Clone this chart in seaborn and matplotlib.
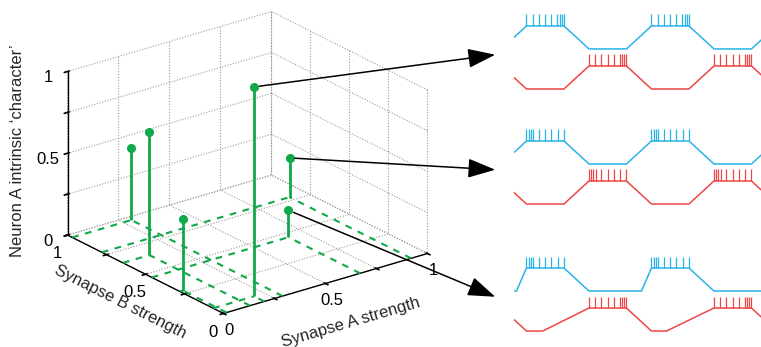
import numpy as np
import matplotlib
matplotlib.use("Agg")
import matplotlib.pyplot as plt
import seaborn as sns
from matplotlib.patches import ConnectionPatch
from mpl_toolkits.mplot3d import proj3d

# stems: synapse A strength, synapse B strength, neuron A intrinsic character
syn_a = [0.29, 0.13, 0.015, 0.20, 0.92, 0.67]
syn_b = [0.97, 0.645, 0.28, 0.066, 0.78, 0.46]
character = [0.44, 0.755, 0.435, 1.28, 0.24, 0.165]
linked_stems = [3, 4, 5]  # stems pointing to the three trace panels

axis_ticks = [0, 0.25, 0.5, 0.75, 1]
axis_ticklabels = ["0", "", "0.5", "", "1"]

# activity traces (time in arbitrary units)
t_regular = [0, 1, 4, 6, 9, 11, 14, 16, 19, 20]
blue_regular = [0.5, 1, 1, 0, 0, 1, 1, 0, 0, 0.5]
red_regular = [0.5, 0, 0, 1, 1, 0, 0, 1, 1, 0.5]
t_blue3 = [0, 0.2, 1, 4, 6, 10.2, 11, 14, 16, 20]
blue3 = [0, 0, 1, 1, 0, 0, 1, 1, 0, 0]
t_red3 = [0, 1, 2.3, 6, 9, 11, 12.2, 16, 19, 20]
red3 = [0.5, 0, 0, 1, 1, 0, 0, 1, 1, 0.5]

blue_burst_starts = [1, 11]
red_burst_starts = [6, 16]
late_burst = [0, 0.5, 1, 1.5, 2, 2.45, 2.67, 2.83, 3]
early_burst = [0, 0.17, 0.33, 0.55, 1, 1.5, 2, 2.5, 3]

GREEN = "#0fa84a"
BLUE = "#27b4e6"
RED = "#ee4646"
FS = 12

sns.set_theme(style="white")
plt.rcParams["font.family"] = ["Liberation Sans", "DejaVu Sans"]
plt.rcParams["axes3d.automargin"] = False

W, H = 761, 347
fig = plt.figure(figsize=(W / 100, H / 100), dpi=100)

# ---------- 3D stem plot ----------
ax = fig.add_axes([0.0, 0.0, 0.62, 1.0], projection="3d")
ax.set_proj_type("ortho")
ax.view_init(elev=22.6, azim=-127.4)
zoom = 1.0
ax.set_box_aspect((1, 1, 0.69), zoom=zoom)
ax.set_xlim(0, 1)
ax.set_ylim(0, 1)
ax.set_zlim(0, 1)

for axis in (ax.xaxis, ax.yaxis, ax.zaxis):
    axis.set_pane_color((1, 1, 1, 1))
    axis.pane.set_edgecolor("none")
    axis._axinfo["grid"].update(color="#9a9a9a", linestyle=(0, (1, 1.5)), linewidth=0.8)
    axis.line.set_color("black")
    axis.line.set_linewidth(1.0)

ax.set_xticks(axis_ticks)
ax.set_yticks(axis_ticks)
ax.set_zticks(axis_ticks)
ax.set_xticklabels(axis_ticklabels)
ax.set_yticklabels(axis_ticklabels)
ax.set_zticklabels(axis_ticklabels)
ax.tick_params(labelsize=FS, colors="black")
ax.tick_params(axis="x", pad=-3)
ax.tick_params(axis="y", pad=-1.5)
ax.tick_params(axis="z", pad=-1.0)
ax.set_xlabel("Synapse A strength", fontsize=FS, labelpad=0)
ax.set_ylabel("Synapse B strength", fontsize=FS, labelpad=-5)
ax.set_zlabel("Neuron A intrinsic \u2018character\u2019", fontsize=FS, labelpad=-3)

for a, b, z in zip(syn_a, syn_b, character):
    ax.plot([a, a], [0, b], [0, 0], color=GREEN, lw=1.5, dashes=(3.2, 3.2))
    ax.plot([0, a], [b, b], [0, 0], color=GREEN, lw=1.5, dashes=(3.2, 3.2))
for a, b, z in zip(syn_a, syn_b, character):
    ax.plot([a, a], [b, b], [0, z], color=GREEN, lw=2.0, solid_capstyle="butt")
    ax.plot([a], [b], [z], "o", color=GREEN, ms=5.5)


def to_display(x, y, z):
    xs, ys, _ = proj3d.proj_transform(x, y, z, ax.get_proj())
    return ax.transData.transform((xs, ys))


# fit the box onto the target layout (pixels, origin bottom-left)
target_x_len = 212.6
target_center = np.array([247.5, H - 162.5])
fig.canvas.draw()
o = to_display(0, 0, 0)
x1 = to_display(1, 0, 0)
zoom *= target_x_len / np.hypot(*(x1 - o))
ax.set_box_aspect((1, 1, 0.69), zoom=zoom)
for _ in range(2):
    fig.canvas.draw()
    c = to_display(0.5, 0.5, 0.5)
    pos = ax.get_position(original=True)
    dx, dy = (target_center - c) / np.array([W, H])
    ax.set_position([pos.x0 + dx, pos.y0 + dy, pos.width, pos.height])
fig.canvas.draw()

# ---------- trace panels ----------
panel_bottoms = [0.733, 0.4015, 0.0354]
panels = [
    (t_regular, blue_regular, late_burst, t_regular, red_regular, late_burst),
    (t_regular, blue_regular, early_burst, t_regular, red_regular, early_burst),
    (t_blue3, blue3, early_burst, t_red3, red3, late_burst),
]
red_offset = -1.74
spike_h = 0.5
panel_axes = []
for bottom, (tb, vb, sb, tr, vr, sr) in zip(panel_bottoms, panels):
    pax = fig.add_axes([0.6754, bottom, 0.3285, 0.232])
    sns.lineplot(x=tb, y=vb, ax=pax, color=BLUE, lw=1.1, sort=False, estimator=None)
    sns.lineplot(x=tr, y=[v + red_offset for v in vr], ax=pax, color=RED, lw=1.1,
                 sort=False, estimator=None)
    for s in blue_burst_starts:
        pax.vlines([s + d for d in sb], 1, 1 + spike_h, color=BLUE, lw=0.9)
    for s in red_burst_starts:
        pax.vlines([s + d for d in sr], 1 + red_offset, 1 + red_offset + spike_h,
                   color=RED, lw=0.9)
    pax.set_xlim(0, 20)
    pax.set_ylim(-1.9, 1.6)
    pax.set_axis_off()
    panel_axes.append(pax)

# ---------- arrows from stems to panels ----------
arrow_tip = (-1.5, -0.25)
for idx, pax in zip(linked_stems, panel_axes):
    start = to_display(syn_a[idx], syn_b[idx], character[idx])
    con = ConnectionPatch(xyA=tuple(start), coordsA="figure pixels",
                          xyB=arrow_tip, coordsB=pax.transData,
                          arrowstyle="-|>,head_length=0.85,head_width=0.3",
                          mutation_scale=20, color="black", lw=1.1,
                          shrinkA=4, shrinkB=0)
    fig.add_artist(con)

fig.savefig("out.png", dpi=100)
